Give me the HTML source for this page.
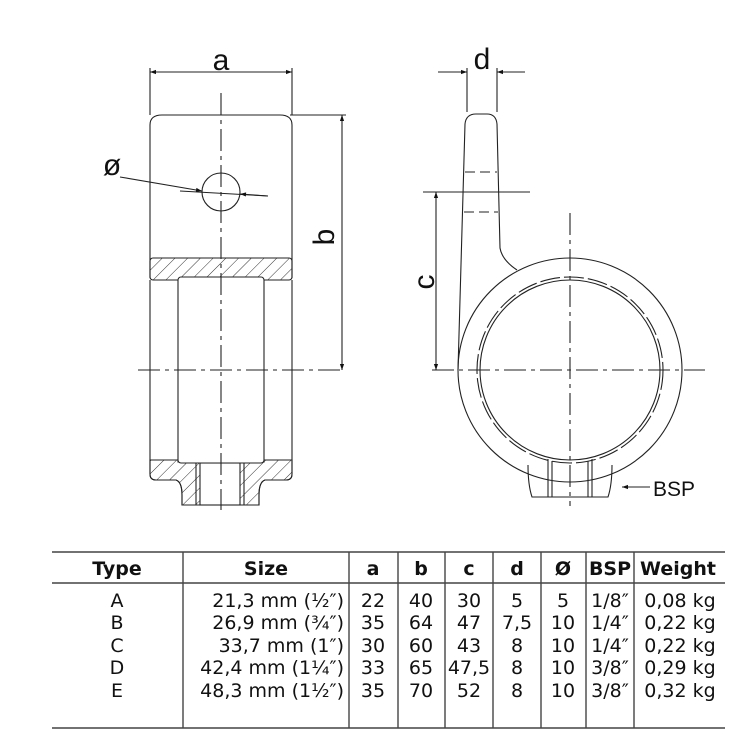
<!DOCTYPE html>
<html><head><meta charset="utf-8"><style>
body{margin:0;background:#fff;width:750px;height:750px;overflow:hidden}
svg{position:absolute;left:0;top:0}
text{font-family:"DejaVu Sans","Liberation Sans",sans-serif;fill:#111}
</style></head><body>
<svg width="750" height="750" viewBox="0 0 750 750">
<defs>
<marker id="ar" viewBox="0 0 10 10" refX="10" refY="5" markerWidth="12" markerHeight="6" orient="auto-start-reverse" markerUnits="userSpaceOnUse"><path d="M0,1.5 L10,5 L0,8.5z" fill="#111"/></marker>
<pattern id="h" width="9" height="9" patternUnits="userSpaceOnUse" patternTransform="rotate(45)"><line x1="0" y1="0" x2="0" y2="9" stroke="#333" stroke-width="1"/></pattern>
</defs>
<g fill="none" stroke="#222" stroke-width="1.1">
<path d="M150,278 V125 Q150,115 162,115 H280 Q292,115 292,125 V278"/>
<rect x="150" y="258" width="142" height="22" fill="url(#h)" rx="3"/>
<path d="M150,280 V474 Q150,480 156,480 H176 Q182,482 182,495 V505 H259 V495 Q259,482 265,480 H286 Q292,480 292,474 V280"/>
<path d="M150,460 H178 L178,462 H264 V460 H292 V474 Q292,480 286,480 H265 Q259,482 259,495 V505 H182 V495 Q182,482 176,480 H156 Q150,480 150,474Z" fill="url(#h)"/>
<rect x="200" y="463" width="40" height="42" fill="#fff"/>
<line x1="196" y1="463" x2="196" y2="505"/><line x1="244" y1="463" x2="244" y2="505"/>
<rect x="178" y="277" width="86" height="186" rx="3" fill="#fff"/>
<circle cx="221" cy="192" r="19"/>
<line x1="221" y1="93" x2="221" y2="510" stroke-dasharray="22,5,4,5"/>
<line x1="138" y1="370" x2="345" y2="370" stroke-dasharray="22,5,4,5"/>
<line x1="150" y1="68" x2="150" y2="115"/><line x1="292" y1="68" x2="292" y2="115"/>
<line x1="150" y1="72" x2="292" y2="72" marker-start="url(#ar)" marker-end="url(#ar)"/>
<line x1="290" y1="115" x2="346" y2="115"/>
<line x1="342" y1="115" x2="342" y2="370" marker-start="url(#ar)" marker-end="url(#ar)"/>
<line x1="120" y1="177" x2="202" y2="191" marker-end="url(#ar)"/>
<line x1="180" y1="191" x2="268" y2="196"/>
<line x1="268" y1="196" x2="240" y2="194" marker-end="url(#ar)"/>
<path d="M458,370 L465,124 Q466,114 476,114 H487 Q496,114 497,124 L500,248 Q502,260 517,270"/>
<circle cx="570" cy="370" r="112"/>
<circle cx="570" cy="370" r="93" stroke-dasharray="20,4"/>
<circle cx="570" cy="370" r="90"/>
<path d="M528,465 Q528,485 532,497 H608 Q612,485 612,465"/>
<line x1="548" y1="459" x2="548" y2="497"/><line x1="592" y1="459" x2="592" y2="497"/>
<line x1="552" y1="461" x2="552" y2="497"/><line x1="588" y1="461" x2="588" y2="497"/>
<line x1="465" y1="172" x2="497" y2="172" stroke-dasharray="10,5"/>
<line x1="464" y1="212" x2="498" y2="212" stroke-dasharray="10,5"/>
<line x1="570" y1="213" x2="570" y2="506" stroke-dasharray="22,5,4,5"/>
<line x1="432" y1="370" x2="705" y2="370" stroke-dasharray="22,5,4,5"/>
<line x1="423" y1="192" x2="530" y2="192"/>
<line x1="436" y1="192" x2="436" y2="370" marker-start="url(#ar)" marker-end="url(#ar)"/>
<line x1="467" y1="68" x2="467" y2="112"/><line x1="497" y1="68" x2="497" y2="112"/>
<line x1="438" y1="72" x2="467" y2="72" marker-end="url(#ar)"/>
<line x1="525" y1="72" x2="497" y2="72" marker-end="url(#ar)"/>
<line x1="650" y1="487" x2="622" y2="487" marker-end="url(#ar)"/>
<line x1="52" y1="552" x2="725" y2="552" stroke="#444" stroke-width="1.6"/>
<line x1="52" y1="583" x2="725" y2="583" stroke="#444" stroke-width="1.6"/>
<line x1="52" y1="728" x2="725" y2="728" stroke="#444" stroke-width="1.6"/>
<g stroke="#444" stroke-width="1.4">
<line x1="183" y1="552" x2="183" y2="728"/><line x1="349" y1="552" x2="349" y2="728"/>
<line x1="398" y1="552" x2="398" y2="728"/><line x1="445" y1="552" x2="445" y2="728"/>
<line x1="493" y1="552" x2="493" y2="728"/><line x1="541" y1="552" x2="541" y2="728"/>
<line x1="586" y1="552" x2="586" y2="728"/><line x1="634" y1="552" x2="634" y2="728"/>
</g>
</g>
<g font-size="30" text-anchor="middle">
<text x="221" y="70" style="font-family:'Liberation Sans',sans-serif">a</text>
<text x="482" y="69" style="font-family:'Liberation Sans',sans-serif">d</text>
<text x="112" y="175" style="font-family:'Liberation Sans',sans-serif">ø</text>
<text transform="translate(334,237) rotate(-90)" style="font-family:'Liberation Sans',sans-serif">b</text>
<text transform="translate(434,282) rotate(-90)" style="font-family:'Liberation Sans',sans-serif">c</text>
</g>
<text x="653" y="496" font-size="21" style="font-family:'Liberation Sans',sans-serif">BSP</text>
<g font-size="19" font-weight="bold" text-anchor="middle">
<text x="117" y="575">Type</text><text x="266" y="575">Size</text>
<text x="373" y="575">a</text><text x="421" y="575">b</text><text x="469" y="575">c</text>
<text x="517" y="575">d</text><text x="563" y="575">Ø</text><text x="610" y="575">BSP</text><text x="678" y="575">Weight</text>
</g>
<g font-size="19" text-anchor="middle">
<text x="117" y="607">A</text><text x="117" y="629">B</text><text x="117" y="652">C</text><text x="117" y="674">D</text><text x="117" y="697">E</text>
</g>
<g font-size="19" text-anchor="end">
<text x="344" y="607">21,3 mm (½″)</text><text x="344" y="629">26,9 mm (¾″)</text><text x="344" y="652">33,7 mm (1″)</text><text x="344" y="674">42,4 mm (1¼″)</text><text x="344" y="697">48,3 mm (1½″)</text>
</g>
<g font-size="19" text-anchor="middle">
<text x="373" y="607">22</text><text x="421" y="607">40</text><text x="469" y="607">30</text><text x="517" y="607">5</text><text x="563" y="607">5</text><text x="610" y="607">1/8″</text><text x="680" y="607">0,08 kg</text>
<text x="373" y="629">35</text><text x="421" y="629">64</text><text x="469" y="629">47</text><text x="517" y="629">7,5</text><text x="563" y="629">10</text><text x="610" y="629">1/4″</text><text x="680" y="629">0,22 kg</text>
<text x="373" y="652">30</text><text x="421" y="652">60</text><text x="469" y="652">43</text><text x="517" y="652">8</text><text x="563" y="652">10</text><text x="610" y="652">1/4″</text><text x="680" y="652">0,22 kg</text>
<text x="373" y="674">33</text><text x="421" y="674">65</text><text x="469" y="674">47,5</text><text x="517" y="674">8</text><text x="563" y="674">10</text><text x="610" y="674">3/8″</text><text x="680" y="674">0,29 kg</text>
<text x="373" y="697">35</text><text x="421" y="697">70</text><text x="469" y="697">52</text><text x="517" y="697">8</text><text x="563" y="697">10</text><text x="610" y="697">3/8″</text><text x="680" y="697">0,32 kg</text>
</g>
</svg>
</body></html>
